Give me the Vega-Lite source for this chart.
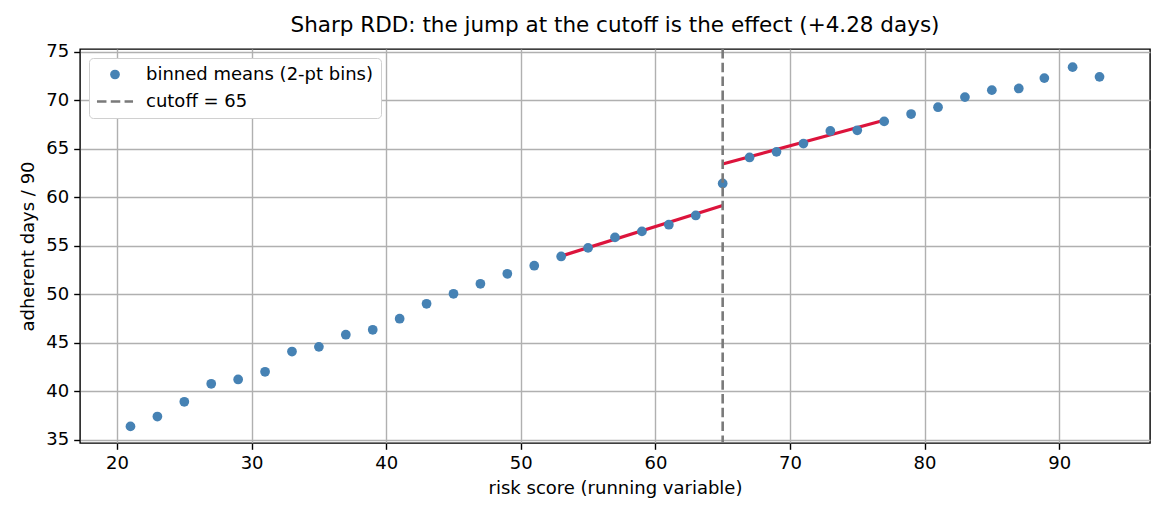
{
  "$schema": "https://vega.github.io/schema/vega-lite/v6.json",
  "autosize": {"type": "none"},
  "width": 1070,
  "height": 394,
  "padding": {"left": 80, "top": 49, "right": 20, "bottom": 77},
  "background": "white",
  "title": {
    "text": "Sharp RDD: the jump at the cutoff is the effect (+4.28 days)",
    "fontSize": 21.5,
    "fontWeight": "normal",
    "font": "DejaVu Sans",
    "color": "black",
    "frame": "group",
    "offset": 6
  },
  "config": {
    "font": "DejaVu Sans",
    "view": {"stroke": "black", "strokeWidth": 1.4},
    "axis": {
      "grid": true,
      "gridColor": "#b0b0b0",
      "gridWidth": 1.4,
      "gridOpacity": 1,
      "domain": false,
      "tickColor": "black",
      "tickSize": 6.3,
      "tickWidth": 1.4,
      "labelFont": "DejaVu Sans",
      "labelFontSize": 18,
      "labelColor": "black",
      "labelPadding": 5,
      "titleFont": "DejaVu Sans",
      "titleFontSize": 18,
      "titleFontWeight": "normal",
      "titleColor": "black"
    },
    "legend": {
      "title": null,
      "orient": "top-left",
      "offset": 9,
      "padding": 7.5,
      "fillColor": "white",
      "strokeColor": "#d0d0d0",
      "cornerRadius": 4,
      "labelFont": "DejaVu Sans",
      "labelFontSize": 18,
      "labelColor": "black",
      "labelLimit": 400,
      "symbolSize": 95,
      "symbolStrokeWidth": 2.6,
      "rowPadding": 7,
      "labelOffset": 22,
      "symbolOffset": 9.5
    }
  },
  "datasets": {
    "bins": [
      {"score": 21, "days": 36.4},
      {"score": 23, "days": 37.42},
      {"score": 25, "days": 38.94},
      {"score": 27, "days": 40.79},
      {"score": 29, "days": 41.24},
      {"score": 31, "days": 42.03},
      {"score": 33, "days": 44.12},
      {"score": 35, "days": 44.6},
      {"score": 37, "days": 45.85},
      {"score": 39, "days": 46.36},
      {"score": 41, "days": 47.5},
      {"score": 43, "days": 49.04},
      {"score": 45, "days": 50.07},
      {"score": 47, "days": 51.1},
      {"score": 49, "days": 52.13},
      {"score": 51, "days": 52.96},
      {"score": 53, "days": 53.92},
      {"score": 55, "days": 54.8},
      {"score": 57, "days": 55.88},
      {"score": 59, "days": 56.5},
      {"score": 61, "days": 57.19},
      {"score": 63, "days": 58.14},
      {"score": 65, "days": 61.44},
      {"score": 67, "days": 64.12},
      {"score": 69, "days": 64.7},
      {"score": 71, "days": 65.55},
      {"score": 73, "days": 66.85},
      {"score": 75, "days": 66.92},
      {"score": 77, "days": 67.84},
      {"score": 79, "days": 68.6},
      {"score": 81, "days": 69.3},
      {"score": 83, "days": 70.34},
      {"score": 85, "days": 71.06},
      {"score": 87, "days": 71.23},
      {"score": 88.9, "days": 72.3},
      {"score": 91, "days": 73.43},
      {"score": 93, "days": 72.43}
    ],
    "fits": [
      {"side": "below", "score": 53, "days": 53.95},
      {"side": "below", "score": 65, "days": 59.17},
      {"side": "above", "score": 65, "days": 63.45},
      {"side": "above", "score": 77, "days": 67.95}
    ],
    "cutoff": [
      {"score": 65}
    ]
  },
  "layer": [
    {
      "data": {"name": "fits"},
      "mark": {"type": "line", "color": "#dc143c", "strokeWidth": 3.2, "clip": true},
      "encoding": {
        "x": {"field": "score", "type": "quantitative"},
        "y": {"field": "days", "type": "quantitative"},
        "detail": {"field": "side"}
      }
    },
    {
      "data": {"name": "bins"},
      "mark": {"type": "point", "filled": true, "opacity": 1, "size": 95},
      "encoding": {
        "x": {
          "field": "score",
          "type": "quantitative",
          "scale": {"domain": [17.25, 96.75], "nice": false, "zero": false},
          "axis": {"values": [20, 30, 40, 50, 60, 70, 80, 90], "title": "risk score (running variable)", "titlePadding": 7}
        },
        "y": {
          "field": "days",
          "type": "quantitative",
          "scale": {"domain": [34.69, 75.3], "nice": false, "zero": false},
          "axis": {"values": [35, 40, 45, 50, 55, 60, 65, 70, 75], "title": "adherent days / 90", "titlePadding": 8}
        },
        "color": {
          "datum": "binned means (2-pt bins)",
          "type": "nominal",
          "scale": {
            "domain": ["binned means (2-pt bins)", "cutoff = 65"],
            "range": ["#4682b4", "transparent"]
          },
          "legend": {}
        },
        "stroke": {
          "datum": "binned means (2-pt bins)",
          "type": "nominal",
          "scale": {
            "domain": ["binned means (2-pt bins)", "cutoff = 65"],
            "range": ["transparent", "#7a7a7a"]
          },
          "legend": {}
        },
        "shape": {
          "datum": "binned means (2-pt bins)",
          "type": "nominal",
          "scale": {
            "domain": ["binned means (2-pt bins)", "cutoff = 65"],
            "range": ["circle", "M-3.7,0H3.7"]
          },
          "legend": {}
        },
        "strokeDash": {
          "datum": "binned means (2-pt bins)",
          "type": "nominal",
          "scale": {
            "domain": ["binned means (2-pt bins)", "cutoff = 65"],
            "range": [[1, 0], [9.5, 4.3]]
          },
          "legend": {}
        }
      }
    },
    {
      "data": {"name": "cutoff"},
      "mark": {"type": "rule", "strokeDash": [9.5, 4.3], "strokeWidth": 2.6, "color": "#7a7a7a"},
      "encoding": {
        "x": {"field": "score", "type": "quantitative"}
      }
    }
  ]
}
